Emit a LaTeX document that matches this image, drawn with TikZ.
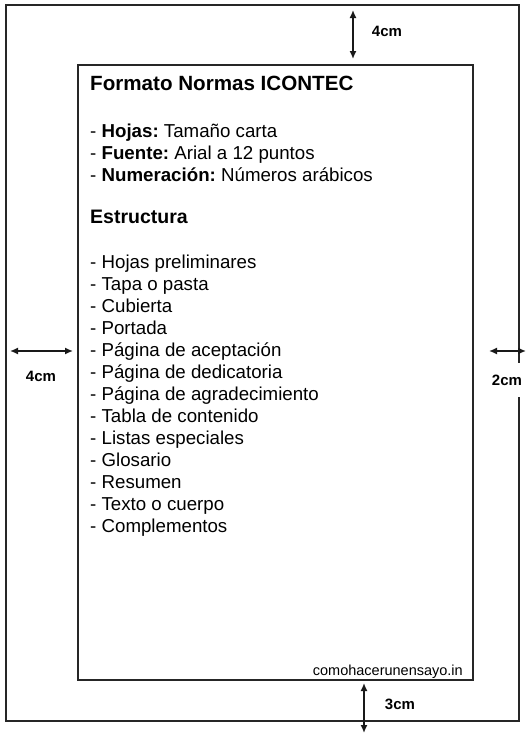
\documentclass[tikz,border=0pt]{standalone}
\usepackage{fontspec}
\setmainfont{Liberation Sans}
\usetikzlibrary{arrows.meta}
\frenchspacing

\tikzset{
  sheet/.style={draw=black!85, line width=1.7pt},
  measure/.style={arrows={Latex[length=8pt,width=7pt]-Latex[length=8pt,width=7pt]}, line width=1.5pt, black!90},
  cmlabel/.style={font=\fontsize{15}{18}\selectfont\bfseries, inner sep=1pt},
  headtext/.style={anchor=base west, inner sep=0pt, font=\fontsize{20.6}{24}\selectfont\bfseries},
  bodytext/.style={anchor=base west, inner sep=0pt, font=\fontsize{18.7}{22}\selectfont}
}

\begin{document}
\begin{tikzpicture}[x=1pt,y=-1pt]
\useasboundingbox (0,0) rectangle (531,736);
%%%%% Hojas %%%%%
\draw[sheet] (6,5) rectangle (519,721);
\draw[sheet] (78,65) rectangle (473,680);
%%%%% Margenes %%%%%
\coordinate (topA) at (353,10);
\coordinate (topB) at (353,59);
\coordinate (leftA) at (10,351);
\coordinate (leftB) at (73,351);
\coordinate (rightA) at (489,351);
\coordinate (rightB) at (526,351);
\coordinate (botA) at (364,683);
\coordinate (botB) at (364,733);
\draw[measure] (topA)--(topB);
\draw[measure] (leftA)--(leftB);
\draw[measure] (rightA)--(rightB);
\draw[measure] (botA)--(botB);
\node[cmlabel] (mtop) at (387,31) {4cm};
\node[cmlabel] (mleft) at (41,376) {4cm};
\node[cmlabel, fill=white, minimum height=34pt, inner xsep=2pt] (mright) at (507,380) {2cm};
\node[cmlabel] (mbot) at (400,704) {3cm};
%%%%% Texto %%%%%
\node[headtext] (title) at (90,90) {Formato Normas ICONTEC};
\node[bodytext] (hojas) at (90,137) {- \textbf{Hojas:} Tamaño carta};
\node[bodytext] (fuente) at (90,159) {- \textbf{Fuente:} Arial a 12 puntos};
\node[bodytext] (numer) at (90,181) {- \textbf{Numeración:} Números arábicos};
\node[headtext, font=\fontsize{19.5}{24}\selectfont\bfseries] (estruct) at (90,223) {Estructura};
\foreach \txt [count=\i from 0] in {Hojas preliminares, Tapa o pasta, Cubierta, Portada,
  Página de aceptación, Página de dedicatoria, Página de agradecimiento,
  Tabla de contenido, Listas especiales, Glosario, Resumen, Texto o cuerpo, Complementos}{
\node[bodytext] (part\i) at (90,268+22*\i) {- \txt};
}
\node[anchor=base east, inner sep=0pt, font=\fontsize{14.5}{17}\selectfont] (web) at (463,675) {comohacerunensayo.in};
\end{tikzpicture}
\end{document}
